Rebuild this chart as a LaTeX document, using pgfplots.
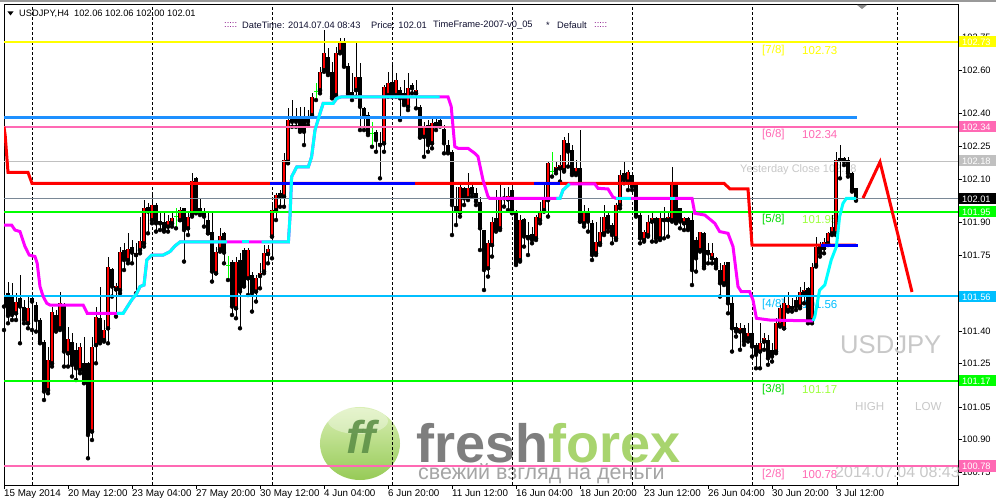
\documentclass[border=0pt]{standalone}
\usepackage{pgfplots}
\pgfplotsset{compat=1.18}
\usepackage{pgfplotstable}
\usepackage{fontspec}
\setmainfont{Liberation Sans}
\definecolor{mmyellow}{HTML}{FFFF00}
\definecolor{mmpink}{HTML}{FF69B4}
\definecolor{mmgreen}{HTML}{00FF00}
\definecolor{mmlgreen}{HTML}{9CFF3C}
\definecolor{mmsky}{HTML}{00BFFF}
\definecolor{mmdodger}{HTML}{1E90FF}
\definecolor{mmsilver}{HTML}{C0C0C0}
\definecolor{mmslate}{HTML}{7A8896}
\definecolor{mmmag}{HTML}{FF00FF}
\definecolor{mmcyan}{HTML}{00FFFF}
\definecolor{mmblue}{HTML}{0000FF}
\definecolor{mmred}{HTML}{FF0000}
\definecolor{wmgray}{HTML}{C8C8C8}
\definecolor{fgray}{HTML}{7E7E7E}
\definecolor{fgreen}{HTML}{A8D46E}
\definecolor{cgray}{HTML}{A5A5A5}
\definecolor{ballt}{HTML}{D6EEAE}
\definecolor{ballb}{HTML}{8CC545}
\definecolor{ffg}{HTML}{5E9148}
\definecolor{hdrtxt}{HTML}{101030}
\definecolor{hdrcol}{HTML}{800080}

\pgfplotstableread{
i o h l c
3 101.482 101.574 101.451 101.536
6 101.436 101.559 101.413 101.505
11 101.129 101.329 101.114 101.268
12 101.252 101.513 101.237 101.490
14 101.413 101.582 101.405 101.528
16 101.298 101.421 101.237 101.362
19 101.221 101.344 101.206 101.329
22 100.938 101.375 100.899 101.329
23 101.336 101.513 101.252 101.467
25 101.359 101.451 101.352 101.405
26 101.413 101.743 101.344 101.697
28 101.592 101.620 101.467 101.608
29 101.589 101.789 101.574 101.766
31 101.727 101.850 101.712 101.776
33 101.750 101.804 101.574 101.758
34 101.773 101.927 101.758 101.813
35 101.804 102.003 101.789 101.965
37 101.911 102.042 101.896 101.980
41 101.881 101.934 101.858 101.908
42 101.896 101.950 101.881 101.919
44 101.911 101.972 101.911 101.957
46 101.873 101.942 101.842 101.927
47 101.934 102.126 101.927 102.092
53 101.666 101.789 101.666 101.766
54 101.776 101.873 101.766 101.838
58 101.505 101.743 101.459 101.720
61 101.643 101.781 101.566 101.773
63 101.582 101.658 101.536 101.643
64 101.654 101.712 101.597 101.669
65 101.674 101.796 101.666 101.761
66 101.755 101.796 101.712 101.776
67 101.835 101.988 101.735 101.957
68 101.957 102.034 101.911 102.026
70 102.019 102.218 101.972 102.187
71 102.179 102.425 102.172 102.371
77 102.394 102.494 102.386 102.478
79 102.509 102.616 102.494 102.593
80 102.601 102.785 102.593 102.678
83 102.486 102.708 102.478 102.678
84 102.685 102.747 102.678 102.731
88 102.509 102.724 102.478 102.570
95 102.264 102.532 102.225 102.524
96 102.486 102.593 102.478 102.540
98 102.486 102.586 102.478 102.555
101 102.432 102.586 102.417 102.517
103 102.494 102.555 102.425 102.509
105 102.294 102.363 102.202 102.340
107 102.264 102.379 102.241 102.356
114 101.945 102.072 101.927 102.065
116 102.011 102.126 102.003 102.057
121 101.689 101.819 101.651 101.804
122 101.796 101.927 101.743 101.904
124 101.873 102.072 101.865 102.003
126 102.006 102.065 101.957 102.022
129 101.727 101.934 101.720 101.911
133 101.827 101.934 101.819 101.927
134 101.911 101.996 101.896 101.950
135 101.957 102.072 101.950 102.019
136 102.003 102.180 101.927 102.172
138 102.141 102.180 102.126 102.157
139 102.149 102.210 102.088 102.164
140 102.141 102.295 102.134 102.279
143 102.126 102.187 102.118 102.149
145 101.896 101.980 101.881 101.942
148 101.758 101.904 101.750 101.812
149 101.804 101.927 101.796 101.858
150 101.850 101.980 101.842 101.927
153 101.827 101.988 101.819 101.980
154 101.980 102.141 101.965 102.118
156 102.088 102.141 102.049 102.134
160 101.819 101.865 101.812 101.858
161 101.842 101.934 101.835 101.904
162 101.904 101.942 101.812 101.919
164 101.827 101.950 101.819 101.919
165 101.911 101.973 101.827 101.919
166 101.911 101.950 101.835 101.927
167 101.911 102.157 101.904 102.072
170 101.896 101.927 101.865 101.919
174 101.773 101.858 101.766 101.858
177 101.735 101.804 101.712 101.758
180 101.620 101.720 101.612 101.704
184 101.398 101.436 101.314 101.413
186 101.367 101.436 101.352 101.393
189 101.306 101.436 101.229 101.344
190 101.352 101.390 101.314 101.367
193 101.306 101.459 101.298 101.436
194 101.428 101.520 101.421 101.505
195 101.413 101.559 101.413 101.528
196 101.497 101.582 101.490 101.520
199 101.513 101.605 101.505 101.582
200 101.574 101.628 101.528 101.589
202 101.451 101.712 101.436 101.697
203 101.704 101.835 101.697 101.789
205 101.781 101.827 101.758 101.812
206 101.804 101.858 101.796 101.850
207 101.850 101.934 101.842 101.880
208 101.850 102.226 101.842 102.187
}\bull

\pgfplotstableread{
i o h l c
0 101.566 101.589 101.405 101.513
1 101.574 101.628 101.436 101.470
2 101.559 101.620 101.451 101.474
4 101.551 101.658 101.344 101.513
5 101.513 101.543 101.436 101.451
7 101.551 101.566 101.405 101.536
8 101.520 101.536 101.398 101.451
9 101.451 101.459 101.344 101.352
10 101.352 101.359 101.083 101.122
13 101.474 101.497 101.398 101.405
15 101.520 101.528 101.237 101.306
17 101.352 101.390 101.191 101.244
18 101.313 101.344 101.175 101.229
20 101.252 101.375 101.160 101.168
21 101.252 101.260 100.815 100.922
24 101.459 101.605 101.344 101.352
27 101.684 101.689 101.559 101.605
30 101.773 101.804 101.681 101.727
32 101.789 101.819 101.712 101.761
36 101.972 101.988 101.850 101.950
38 101.980 101.988 101.858 101.896
39 101.908 101.950 101.865 101.896
40 101.904 101.942 101.858 101.865
45 101.965 101.965 101.720 101.865
48 102.103 102.110 101.942 101.950
49 101.965 102.011 101.934 101.945
50 101.945 101.965 101.881 101.927
51 101.911 101.950 101.850 101.850
52 101.858 101.950 101.628 101.674
55 101.850 101.858 101.712 101.761
57 101.720 101.727 101.474 101.513
59 101.727 101.758 101.413 101.582
60 101.773 101.781 101.605 101.608
62 101.658 101.674 101.490 101.574
69 102.037 102.049 101.972 102.019
72 102.379 102.463 102.340 102.363
73 102.379 102.425 102.340 102.363
74 102.379 102.432 102.317 102.325
75 102.383 102.432 102.256 102.317
76 102.379 102.417 102.348 102.363
81 102.662 102.701 102.578 102.586
82 102.593 102.639 102.471 102.478
85 102.731 102.747 102.616 102.624
86 102.619 102.632 102.486 102.494
87 102.501 102.586 102.463 102.486
89 102.570 102.632 102.325 102.432
90 102.425 102.432 102.325 102.394
91 102.394 102.409 102.302 102.310
93 102.317 102.325 102.225 102.279
94 102.264 102.317 102.103 102.256
97 102.547 102.632 102.478 102.486
99 102.509 102.524 102.371 102.471
100 102.494 102.555 102.440 102.448
102 102.532 102.540 102.494 102.517
104 102.432 102.440 102.290 102.294
106 102.348 102.371 102.225 102.256
108 102.364 102.387 102.325 102.341
109 102.371 102.379 102.341 102.348
110 102.328 102.348 102.218 102.264
111 102.256 102.279 102.218 102.226
112 102.226 102.234 101.842 101.980
113 101.976 102.065 101.888 101.954
115 102.057 102.065 101.980 102.011
117 102.065 102.088 102.019 102.034
118 102.034 102.057 101.980 101.996
119 101.996 102.019 101.773 101.873
120 101.865 101.865 101.589 101.681
123 101.919 102.049 101.858 101.865
125 102.019 102.057 101.973 102.011
127 102.049 102.072 101.942 101.957
128 101.950 101.957 101.704 101.712
130 101.914 101.919 101.789 101.835
131 101.842 101.904 101.750 101.827
132 101.847 101.881 101.804 101.819
141 102.264 102.310 102.157 102.226
142 102.234 102.256 102.118 102.126
144 102.149 102.325 101.904 101.904
146 101.942 101.965 101.858 101.904
147 101.896 101.911 101.727 101.750
151 101.934 101.950 101.858 101.873
152 101.888 101.896 101.804 101.842
155 102.126 102.180 102.080 102.095
157 102.118 102.134 102.049 102.065
158 102.080 102.088 101.927 101.934
159 101.934 101.942 101.804 101.827
163 101.919 101.927 101.812 101.827
168 102.072 102.080 101.896 101.904
169 101.965 101.965 101.873 101.904
171 101.919 101.927 101.865 101.873
172 101.911 101.942 101.612 101.681
173 101.819 101.835 101.674 101.735
175 101.850 101.858 101.689 101.697
176 101.773 101.804 101.712 101.758
178 101.735 101.743 101.689 101.697
179 101.681 101.712 101.559 101.620
181 101.720 101.720 101.482 101.528
182 101.528 101.559 101.306 101.413
183 101.421 101.436 101.375 101.398
185 101.413 101.428 101.337 101.352
187 101.390 101.467 101.283 101.329
188 101.337 101.344 101.229 101.291
191 101.357 101.382 101.245 101.275
192 101.314 101.344 101.260 101.283
197 101.516 101.551 101.490 101.505
198 101.543 101.566 101.497 101.513
201 101.597 101.605 101.436 101.451
204 101.796 101.812 101.743 101.758
209 102.195 102.256 102.103 102.187
210 102.195 102.203 102.164 102.180
211 102.187 102.203 102.111 102.126
212 102.126 102.134 102.042 102.049
213 102.060 102.060 102.000 102.010
}\bear

\pgfplotstableread{
i o h l c
43 101.927 101.965 101.873 101.927
56 101.704 101.746 101.635 101.704
78 102.501 102.540 102.463 102.501
92 102.310 102.363 102.248 102.310
137 102.134 102.226 102.111 102.134
}\doji

\newcommand{\PX}[2]{({(#1-4)*1bp},{(485-#2)*1bp})}
\newcommand{\fs}[1]{\fontsize{#1bp}{#1bp}\selectfont}

\begin{document}
\begin{tikzpicture}
\useasboundingbox (-4bp,-14bp) rectangle (992bp,485bp);
\fill[white] (-4bp,-14bp) rectangle (992bp,485bp);
\fill[black!40] (-4bp,483bp) rectangle (992bp,485bp);

% watermark logo
\shade[top color=ballt, bottom color=ballb, opacity=0.9] \PX{360}{443.5} ellipse [x radius=40bp, y radius=36.5bp];
\fill[white, opacity=0.35] \PX{358}{421} ellipse [x radius=30bp, y radius=13bp];
\node[font=\fs{46}\bfseries\itshape, text=ffg, opacity=0.9, inner sep=0pt] at \PX{361}{437} {ff};
\node[anchor=base west, inner sep=0pt, font=\fs{54}\bfseries] at \PX{416}{462} {\textcolor{fgray}{fresh}\textcolor{fgreen}{forex}};
\node[anchor=base west, inner sep=0pt, font=\fs{21.5}, text=cgray] at \PX{418}{479} {свежий взгляд на деньги};

\begin{axis}[
  at={(0,0)}, anchor=south west, scale only axis,
  width=954bp, height=481bp,
  xmin=0, xmax=238.5, ymin=100.692, ymax=102.905,
  clip mode=individual,
  axis line style={black, line width=0.9bp},
  every axis plot/.append style={mark=none},
  tick align=outside, major tick length=4bp,
  tick style={black, line width=0.9bp},
  xtick pos=left, ytick pos=right, yticklabel pos=right,
  xtick={0,16,...,208},
  xticklabels={15 May 2014,20 May 12:00,23 May 04:00,27 May 20:00,30 May 12:00,4 Jun 04:00,6 Jun 20:00,11 Jun 12:00,16 Jun 04:00,18 Jun 20:00,23 Jun 12:00,26 Jun 04:00,30 Jun 20:00,3 Jul 12:00},
  ytick={100.75,100.90,101.05,101.25,101.40,101.75,101.90,102.10,102.25,102.40,102.60,102.75},
  yticklabels={100.75,100.90,101.05,101.25,101.40,101.75,101.90,102.10,102.25,102.40,102.60,102.75},
  xticklabel style={anchor=north west, inner sep=0pt, font=\fs{9.8}},
  yticklabel style={anchor=west, inner sep=0pt, font=\fs{9.3}},
]
% period separators
\pgfplotsinvokeforeach{7,37,67,97,127,157,187,223.25}{
  \draw[black, line width=0.9bp, dash pattern=on 3bp off 2bp] (axis cs:#1,100.692) -- (axis cs:#1,102.905);
}
% texts
\node[anchor=west, inner sep=0pt, font=\fs{11.5}, text=mmyellow] at (axis cs:189.5,102.69) {[7/8]};
\node[anchor=west, inner sep=0pt, font=\fs{11.5}, text=mmyellow] at (axis cs:199.5,102.69) {102.73};
\node[anchor=west, inner sep=0pt, font=\fs{11.5}, text=mmpink] at (axis cs:189.5,102.305) {[6/8]};
\node[anchor=west, inner sep=0pt, font=\fs{11.5}, text=mmpink] at (axis cs:199.5,102.305) {102.34};
\node[anchor=west, inner sep=0pt, font=\fs{11.5}, text=mmgreen!85!black] at (axis cs:189.5,101.914) {[5/8]};
\node[anchor=west, inner sep=0pt, font=\fs{11.5}, text=mmlgreen] at (axis cs:199.5,101.914) {101.95};
\node[anchor=west, inner sep=0pt, font=\fs{11.5}, text=mmsky] at (axis cs:189.5,101.523) {[4/8]};
\node[anchor=west, inner sep=0pt, font=\fs{11.5}, text=mmsky] at (axis cs:199.5,101.523) {101.56};
\node[anchor=west, inner sep=0pt, font=\fs{11.5}, text=mmgreen!85!black] at (axis cs:189.5,101.133) {[3/8]};
\node[anchor=west, inner sep=0pt, font=\fs{11.5}, text=mmlgreen] at (axis cs:199.5,101.133) {101.17};
\node[anchor=west, inner sep=0pt, font=\fs{11.5}, text=mmpink] at (axis cs:189.5,100.738) {[2/8]};
\node[anchor=west, inner sep=0pt, font=\fs{11.5}, text=mmpink] at (axis cs:199.5,100.738) {100.78};
\node[anchor=west, inner sep=0pt, font=\fs{11}, text=wmgray] at (axis cs:184,102.144) {Yesterday Close 102.18};
\node[anchor=west, inner sep=0pt, font=\fs{25.6}, text=wmgray] at (axis cs:209,101.338) {USDJPY};
\node[anchor=west, inner sep=0pt, font=\fs{11.6}, text=wmgray] at (axis cs:212.75,101.053) {HIGH};
\node[anchor=west, inner sep=0pt, font=\fs{11.6}, text=wmgray] at (axis cs:227.75,101.053) {LOW};
\node[anchor=west, inner sep=0pt, font=\fs{16}, text=wmgray] at (axis cs:207.75,100.75) {2014.07.04 08:43};

% wicks
\addplot[only marks, mark=none, error bars/.cd, y dir=plus, y explicit, error mark=none,
  error bar style={draw=black, line width=1bp}]
  table[x=i, y=l, y error plus expr=\thisrow{h}-\thisrow{l}] {\bear};
\addplot[only marks, mark=none, error bars/.cd, y dir=plus, y explicit, error mark=none,
  error bar style={draw=black, line width=1bp}]
  table[x=i, y=l, y error plus expr=\thisrow{h}-\thisrow{l}] {\bull};
\addplot[only marks, mark=none, error bars/.cd, y dir=plus, y explicit, error mark=none,
  error bar style={draw=mmgreen, line width=1bp}]
  table[x=i, y=l, y error plus expr=\thisrow{h}-\thisrow{l}] {\doji};
\addplot[only marks, mark=-, mark size=1.6bp, mark options={draw=mmgreen, line width=1bp}]
  table[x=i, y=o] {\doji};
% bodies
\addplot[only marks, mark=none, error bars/.cd, y dir=plus, y explicit, error mark=none,
  error bar style={draw=black, line width=3.3bp}]
  table[x=i, y=c, y error plus expr=\thisrow{o}-\thisrow{c}] {\bear};
\addplot[only marks, mark=none, error bars/.cd, y dir=plus, y explicit, error mark=none,
  error bar style={draw=black, line width=3.6bp}]
  table[x=i, y=o, y error plus expr=\thisrow{c}-\thisrow{o}] {\bull};
\addplot[only marks, mark=none, error bars/.cd, y dir=plus, y explicit, error mark=none,
  error bar style={draw=mmred, line width=2.1bp}]
  table[x=i, y=o, y error plus expr=\thisrow{c}-\thisrow{o}] {\bull};

% level lines
\addplot[mmyellow, line width=2bp] coordinates {(0,102.73) (238.5,102.73)};
\addplot[mmpink, line width=2bp] coordinates {(0,102.34) (238.5,102.34)};
\addplot[mmsilver, line width=1bp] coordinates {(0,102.18) (238.5,102.18)};
\addplot[mmslate, line width=1bp] coordinates {(0,102.01) (238.5,102.01)};
\addplot[mmgreen, line width=2bp] coordinates {(0,101.95) (238.5,101.95)};
\addplot[mmsky, line width=2bp] coordinates {(0,101.56) (238.5,101.56)};
\addplot[mmgreen, line width=2bp] coordinates {(0,101.17) (238.5,101.17)};
\addplot[mmpink, line width=2bp] coordinates {(0,100.78) (238.5,100.78)};
\addplot[mmdodger, line width=3bp] coordinates {(0,102.384) (213.25,102.384)};

% red step line with blue segments
\addplot[mmred, line width=3bp] coordinates {(0,102.34) (0.3,102.30) (1,102.13) (6,102.13) (7,102.08) (180,102.08) (181.5,102.054) (186,102.054) (187,101.796) (213,101.796)};
\addplot[mmblue, line width=3bp] coordinates {(66.5,102.08) (102.75,102.08)};
\addplot[mmblue, line width=3bp] coordinates {(132.5,102.08) (139,102.08)};
\addplot[mmblue, line width=3bp] coordinates {(204.3,101.796) (213.5,101.796)};

% magenta / cyan trailing line
\addplot[mmmag, line width=3bp] coordinates {(0,101.888)(1.9,101.888)(2.75,101.865)(4,101.858)(5.25,101.789)(6.3,101.750)(7.75,101.743)(8.3,101.712)(9,101.605)(9.8,101.559)(10.7,101.528)(11.5,101.520)(19.8,101.520)(20.8,101.482)(28.2,101.482)(29.8,101.482)(31.9,101.543)(33.2,101.574)(34,101.605)(35,101.612)(35.7,101.727)(36.9,101.750)(39.8,101.750)(41.5,101.766)(42.75,101.792)(44,101.810)(71.1,101.810)(71.5,101.927)(71.9,102.110)(73.2,102.156)(76.1,102.156)(76.9,102.202)(77.75,102.325)(79,102.402)(79.8,102.448)(82.3,102.448)(83.2,102.471)(84.4,102.478)(111,102.478)(111.8,102.433)(112.7,102.249)(113.5,102.241)(116,102.241)(117.7,102.218)(118.5,102.203)(119.75,102.095)(121,102.019)(121.4,102.011)(139,102.011)(139.75,102.049)(141.4,102.077)(147.7,102.077)(148.5,102.057)(151,102.054)(152.25,102.016)(153,102.011)(172,102.011)(172.7,101.942)(175.2,101.934)(177.7,101.896)(178.9,101.858)(181,101.850)(182.25,101.789)(183.5,101.605)(184.3,101.582)(186.4,101.582)(187.25,101.543)(188.1,101.459)(191.4,101.451)(202.25,101.447)};
\addplot[mmcyan, line width=3bp] coordinates {(28.2,101.482)(29.8,101.482)(31.9,101.543)(33.2,101.574)(34,101.605)(35,101.612)(35.7,101.727)(36.9,101.750)(39.8,101.750)(41.5,101.766)(42.75,101.792)(44,101.810)(55.7,101.810)};
\addplot[mmcyan, line width=3bp] coordinates {(59.5,101.810)(61.2,101.810)};
\addplot[mmcyan, line width=3bp] coordinates {(64.4,101.810)(71.1,101.810)(71.5,101.927)(71.9,102.110)(73.2,102.156)(76.1,102.156)(76.9,102.202)(77.75,102.325)(79,102.402)(79.8,102.448)(82.3,102.448)(83.2,102.471)(84.4,102.478)(108.9,102.478)};
\addplot[mmcyan, line width=3bp] coordinates {(138.1,102.011)(139,102.011)(139.75,102.049)(141.4,102.077)};
\addplot[mmcyan, line width=3bp] coordinates {(153.1,102.011)(156.8,102.011)};
\addplot[mmcyan, line width=3bp] coordinates {(166.4,102.011)(167.7,102.011)};
\addplot[mmcyan, line width=3bp] coordinates {(202.25,101.447)(202.7,101.467)(203.9,101.589)(205.2,101.612)(206.8,101.727)(208.1,101.789)(208.9,101.927)(209.75,101.988)(210.6,102.011)(213,102.011)};

% projected zigzag
\addplot[mmred, line width=3bp] coordinates {(214.75,102.012) (219,102.178) (227,101.58)};
\end{axis}

% right price boxes
\foreach \yy/\col/\txt in {42/mmyellow/102.73, 127/mmpink/102.34, 161/mmsilver/102.18, 199/black/102.01, 212/mmgreen/101.95, 297/mmsky/101.56, 381/mmgreen/101.17, 466/mmpink/100.78}{
  \fill[\col] ({(959-4)*1bp},{(485-\yy-5.5)*1bp}) rectangle ({(996-4)*1bp},{(485-\yy+5.5)*1bp});
  \node[anchor=west, inner sep=0pt, font=\fs{9.3}, text=white] at ({(962-4)*1bp},{(485-\yy)*1bp}) {\txt};
}

% header
\fill[black] \PX{7.5}{11.5} -- \PX{13.5}{11.5} -- \PX{10.5}{15.5} -- cycle;
\node[anchor=west, inner sep=0pt, font=\fs{9.3}, text=black] at \PX{19}{13.5} {USDJPY,H4\hspace{5bp}102.06 102.06 102.00 102.01};
\node[anchor=west, inner sep=0pt, font=\fs{9.3}, text=hdrcol] at \PX{224}{25.5} {:::::};
\node[anchor=west, inner sep=0pt, font=\fs{9.3}, text=hdrtxt] at \PX{242}{25.5} {DateTime: 2014.07.04 08:43};
\node[anchor=west, inner sep=0pt, font=\fs{9.3}, text=hdrtxt] at \PX{371}{25.5} {Price: 102.01};
\node[anchor=west, inner sep=0pt, font=\fs{9.3}, text=hdrtxt] at \PX{433}{25.5} {TimeFrame-2007-v0\_05};
\node[anchor=west, inner sep=0pt, font=\fs{9.3}, text=hdrtxt] at \PX{546}{25.5} {*};
\node[anchor=west, inner sep=0pt, font=\fs{9.3}, text=hdrtxt] at \PX{557}{25.5} {Default};
\node[anchor=west, inner sep=0pt, font=\fs{9.3}, text=hdrcol] at \PX{594}{25.5} {:::::};
\fill[black!45] \PX{857}{5} -- \PX{867}{5} -- \PX{862}{9} -- cycle;
\end{tikzpicture}
\end{document}
